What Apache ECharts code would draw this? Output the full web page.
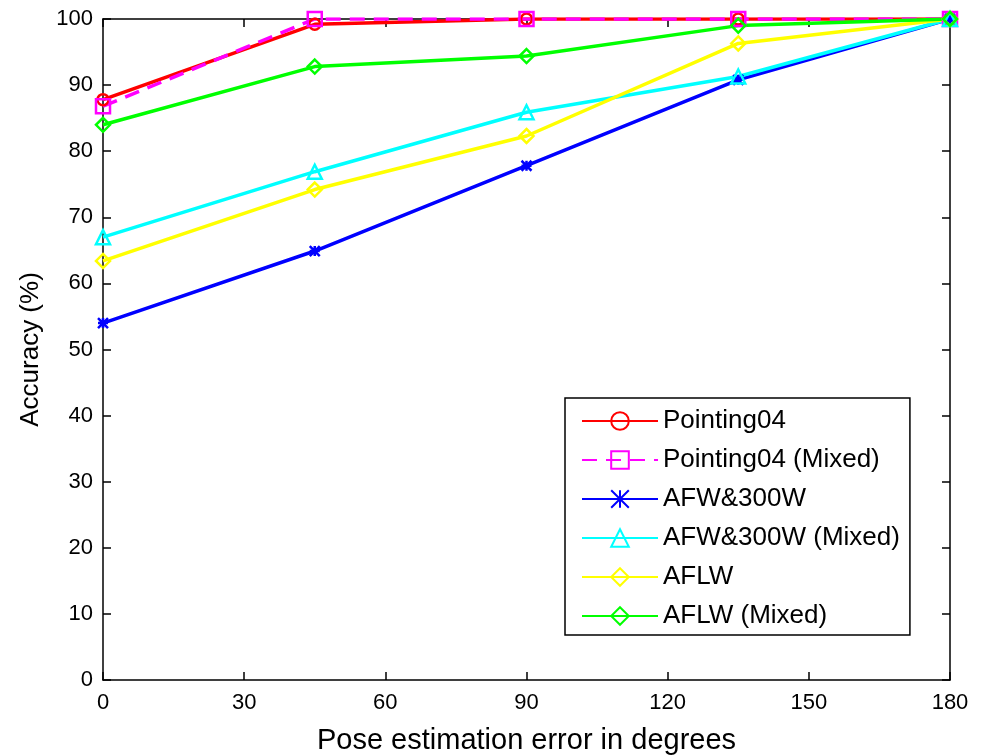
<!DOCTYPE html>
<html>
<head>
<meta charset="utf-8">
<script src="https://cdn.jsdelivr.net/npm/echarts@6/dist/echarts.min.js"></script>
<style>
  html, body { margin: 0; padding: 0; background: #fff; }
  #chart { width: 982px; height: 755px; }
</style>
</head>
<body>
<div id="chart"></div>
<script>
// pose error thresholds (degrees)
const errors = [0, 45, 90, 135, 180]

const pointing04 = [87.8, 99.2, 100, 100, 100]
const pointing04Mixed = [86.8, 100, 100, 100, 100]
const afw300w = [54.0, 64.9, 77.8, 90.8, 100]
const afw300wMixed = [67.0, 76.9, 85.9, 91.3, 100]
const aflw = [63.4, 74.2, 82.3, 96.3, 100]
const aflwMixed = [84.0, 92.8, 94.4, 99.0, 100]

const FONT = 'Liberation Sans, Arial, sans-serif'

const pairs = vals => errors.map((x, i) => [x, vals[i]])

const starPath = 'path://M0,0L10,10M10,0L0,10M5,0L5,10M0,5L10,5'

const makeSeries = (name, vals, color, symbol, size, dashed) => ({
  name,
  type: 'line',
  data: pairs(vals),
  symbol,
  symbolSize: size,
  showSymbol: true,
  lineStyle: { color, width: 3.5, type: dashed ? [15, 9] : 'solid' },
  itemStyle: { color: 'rgba(255,255,255,0)', borderColor: color, borderWidth: 2.5 },
  emphasis: { disabled: true },
  animation: false
})

const chart = echarts.init(document.getElementById('chart'), null, { renderer: 'canvas' })

const tickStyle = { show: true, inside: true, length: 8, lineStyle: { color: '#000', width: 1.5 } }
const borderLine = { show: true, onZero: false, lineStyle: { color: '#000', width: 1.5 } }

chart.setOption({
  backgroundColor: '#fff',
  grid: {
    left: 103, right: 32, top: 19, bottom: 75,
    outerBoundsMode: 'none',
    containLabel: false
  },
  legend: {
    orient: 'vertical',
    left: 565,
    top: 398,
    width: 342,
    padding: [10, 10, 6, 16],
    itemGap: 13,
    itemWidth: 76,
    itemHeight: 22,
    backgroundColor: '#fff',
    borderColor: '#000',
    borderWidth: 1.5,
    textStyle: { fontFamily: FONT, fontSize: 26, color: '#000' },
    data: ['Pointing04', 'Pointing04 (Mixed)', 'AFW&300W', 'AFW&300W (Mixed)', 'AFLW', 'AFLW (Mixed)']
  },
  xAxis: [{
    type: 'value',
    min: 0,
    max: 180,
    interval: 30,
    name: 'Pose estimation error in degrees',
    nameLocation: 'middle',
    nameGap: 46,
    nameTextStyle: { fontFamily: FONT, fontSize: 29, color: '#000' },
    axisLine: borderLine,
    axisTick: tickStyle,
    axisLabel: { fontFamily: FONT, fontSize: 22, color: '#000', margin: 12 },
    splitLine: { show: false }
  }, {
    type: 'value',
    position: 'top',
    min: 0,
    max: 180,
    interval: 30,
    axisLine: borderLine,
    axisTick: tickStyle,
    axisLabel: { show: false },
    splitLine: { show: false }
  }],
  yAxis: [{
    type: 'value',
    min: 0,
    max: 100,
    interval: 10,
    name: 'Accuracy (%)',
    nameLocation: 'middle',
    nameGap: 59,
    nameTextStyle: { fontFamily: FONT, fontSize: 26, color: '#000' },
    axisLine: borderLine,
    axisTick: tickStyle,
    axisLabel: { fontFamily: FONT, fontSize: 22, color: '#000', margin: 10 },
    splitLine: { show: false }
  }, {
    type: 'value',
    position: 'right',
    min: 0,
    max: 100,
    interval: 10,
    axisLine: borderLine,
    axisTick: tickStyle,
    axisLabel: { show: false },
    splitLine: { show: false }
  }],
  series: [
    makeSeries('Pointing04', pointing04, '#ff0000', 'circle', 11),
    makeSeries('Pointing04 (Mixed)', pointing04Mixed, '#ff00ff', 'rect', 14, true),
    makeSeries('AFW&300W', afw300w, '#0000ff', starPath, 10),
    makeSeries('AFW&300W (Mixed)', afw300wMixed, '#00ffff', 'triangle', 14),
    makeSeries('AFLW', aflw, '#ffff00', 'diamond', 14),
    makeSeries('AFLW (Mixed)', aflwMixed, '#00ff00', 'diamond', 14)
  ]
})
</script>
</body>
</html>
